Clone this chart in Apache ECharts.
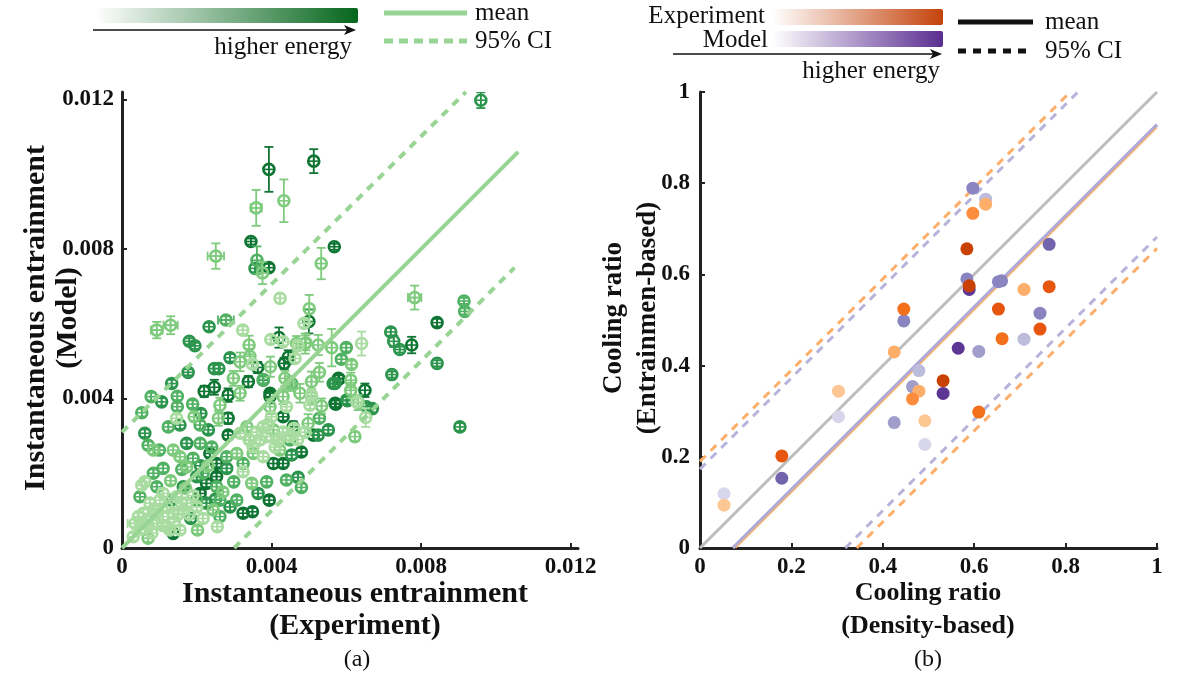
<!DOCTYPE html>
<html><head><meta charset="utf-8">
<script src="https://cdn.jsdelivr.net/npm/echarts@6/dist/echarts.min.js"></script>
<style>html,body{margin:0;padding:0;background:#fff}#c{width:1182px;height:676px}</style>
</head><body><div id="c"></div>
<script>
// ---------- Panel (a): [x, y, xErr, yErr] per energy level (light -> dark) ----------
const levelA0 = [
[0.00423,0.00668,0,0.00012],[0.00323,0.00583,0,0.0001],[0.00398,0.00558,0,0.0001],[0.00431,0.00552,0,0.0001],
[0.00471,0.00541,0,0.0001],[0.00641,0.00547,0,0.00032],[0.00349,0.00492,0,0.0001],[0.00463,0.00507,0,0.0001],
[0.00146,0.00347,0,0.0001],[0.0044,0.00378,0,0.0001],[0.004,0.00351,0,0.0001],[0.00652,0.00349,0,0.00025],
[0.00255,0.00057,0,0.0001],[0.00217,0.00079,0,0.0001],[0.00035,0.00066,0.0002,0.0001],[0.00053,0.00168,0,0.0001],
[0.00061,0.00177,0,0.0001],[0.0011,0.00146,0,0.0001],[0.00324,0.00204,0,0.0001],[0.00369,0.00289,0,0.0001],
[0.00351,0.00271,0,0.0001],[0.00387,0.00298,0,0.0001],[0.00414,0.00289,0,0.0001],[0.00316,0.00307,0,0.0001],
[0.00378,0.00324,0,0.0001],[0.00378,0.00244,0,0.0001],[0.00057,0.00093,0,0.0001],[0.00084,0.00102,0,0.0001],
[0.0011,0.00084,0,0.0001],[0.00137,0.00093,0,0.0001],[0.00164,0.00102,0,0.0001],[0.00093,0.00066,0,0.0001],
[0.0012,0.00057,0,0.0001],[0.00066,0.00075,0,0.0001],[0.00173,0.0012,0,0.0001],[0.00146,0.00137,0,0.0001],
[0.00102,0.00128,0,0.0001],[0.00075,0.0012,0,0.0001],[0.00044,0.00084,0,0.0001],[0.00128,0.00048,0,0.0001],
[0.00155,0.00048,0,0.0001],[0.00487,0.00601,0,0.0001],[0.00507,0.00409,0,0.0001],[0.00628,0.00391,0,0.0001],
[0.00503,0.00382,0,0.0001],[0.0045,0.003,0,0.0001],[0.0047,0.0029,0,0.0001],[0.0043,0.0031,0,0.0001],
[0.0049,0.0031,0,0.0001],[0.0036,0.0031,0,0.0001],[0.0041,0.0027,0,0.0001],[0.0005,0.0005,0,0.0001],
[0.0008,0.0004,0,0.0001],[0.0003,0.0003,0,0.0001],[0.0014,0.0007,0,0.0001],[0.0018,0.0009,0,0.0001],
[0.0009,0.0009,0,0.0001],[0.0012,0.0011,0,0.0001],[0.0016,0.0012,0,0.0001],[0.002,0.0011,0,0.0001],
[0.0007,0.0006,0,0.0001],[0.0011,0.0006,0,0.0001],[0.0015,0.0009,0,0.0001],[0.0019,0.0014,0,0.0001],
[0.0039,0.0033,0,0.0001],[0.0046,0.0032,0,0.0001],[0.0042,0.0029,0,0.0001],[0.0034,0.0029,0,0.0001]
];
const levelA1 = [
[0.00359,0.0091,0.00015,0.00048],[0.00433,0.00929,0,0.00057],[0.00251,0.00781,0.00022,0.00034],[0.00376,0.00736,0,0.0003],
[0.00533,0.00761,0,0.00042],[0.00501,0.0064,0,0.00037],[0.00783,0.0067,0.00018,0.00032],[0.00093,0.00583,0.00016,0.00022],
[0.0013,0.00596,0.00019,0.00024],[0.0049,0.00547,0,0.00027],[0.00525,0.00543,0,0.00027],[0.00561,0.00536,0,0.0005],
[0.00614,0.00491,0,0.0001],[0.00316,0.00498,0,0.00025],[0.0034,0.00543,0,0.00025],[0.00342,0.00513,0,0.0002],
[0.00397,0.00485,0,0.00027],[0.00528,0.0047,0,0.00025],[0.00084,0.00262,0,0.0001],[0.00193,0.00351,0,0.0001],
[0.00262,0.00382,0,0.0002],[0.00258,0.00347,0,0.0002],[0.00298,0.00454,0,0.0002],[0.00316,0.00414,0,0.0002],
[0.00431,0.00405,0,0.0002],[0.00396,0.00378,0,0.0002],[0.00449,0.0044,0,0.0002],[0.00476,0.00414,0,0.00025],
[0.00507,0.00405,0,0.0002],[0.00507,0.00445,0,0.00027],[0.00612,0.00449,0,0.0002],[0.00612,0.00422,0,0.0002],
[0.00632,0.00389,0,0.0002],[0.00623,0.00298,0,0.00012],[0.00498,0.00333,0,0.00025],[0.00347,0.00173,0,0.0001],
[0.00202,0.00048,0,0.0001],[0.0007,0.00026,0,0.0001],[0.00173,0.00217,0,0.0001],[0.00155,0.00244,0,0.0001],
[0.00137,0.00262,0,0.0001],[0.00307,0.00253,0,0.0001],[0.00342,0.00289,0,0.0001],[0.00422,0.00262,0,0.0001],
[0.00334,0.00324,0,0.0001],[0.00405,0.00316,0,0.0001],[0.00351,0.00253,0,0.0001],[0.00244,0.00102,0,0.0001],
[0.00436,0.00454,0,0.0002],[0.00492,0.00549,0,0.0002],[0.00467,0.00547,0,0.0002],[0.00534,0.0038,0,0.0002],
[0.0013,0.0018,0,0.0001],[0.0017,0.0016,0,0.0001],[0.0023,0.0022,0,0.0001],[0.0027,0.0015,0,0.0001]
];
const levelA2 = [
[0.00361,0.0077,0,0.00037],[0.00278,0.0061,0.00021,0.0001],[0.006,0.00536,0,0.0001],[0.00587,0.00505,0,0.0001],
[0.00915,0.00661,0,0.00008],[0.00917,0.00633,0,0.00008],[0.00053,0.00362,0,0.0001],[0.0007,0.00275,0,0.0001],
[0.001,0.00262,0,0.0001],[0.00078,0.00405,0,0.0001],[0.00148,0.00406,0,0.0001],[0.00148,0.00378,0,0.0001],
[0.00189,0.00385,0,0.0001],[0.00124,0.00324,0,0.0001],[0.00209,0.00329,0,0.0001],[0.00528,0.00347,0,0.0001],
[0.0044,0.00182,0,0.0001],[0.0048,0.00162,0,0.0001],[0.00387,0.00177,0,0.0001],[0.00299,0.00177,0,0.0001],
[0.00253,0.00164,0,0.0001],[0.00048,0.00137,0,0.0001],[0.0011,0.00213,0,0.0001],[0.00084,0.002,0,0.0001],
[0.00093,0.00164,0,0.0001],[0.00217,0.002,0,0.0001],[0.00209,0.0028,0,0.0001],[0.0028,0.00244,0,0.0001],
[0.00324,0.00226,0,0.0001],[0.00449,0.00289,0,0.0001],[0.002,0.00128,0,0.0001],[0.00262,0.00128,0,0.0001],
[0.00307,0.00128,0,0.0001],[0.00262,0.00084,0,0.0001],[0.00378,0.00451,0,0.0001],[0.00454,0.0044,0,0.0001],
[0.0019,0.0024,0,0.0001],[0.0024,0.0027,0,0.0001],[0.0016,0.0021,0,0.0001]
];
const levelA3 = [
[0.0096,0.01198,0,0.00021],[0.00356,0.00748,0,0.0001],[0.00233,0.00592,0,0.0001],[0.0018,0.00553,0,0.00008],
[0.00195,0.00541,0,0.00008],[0.00719,0.00578,0,0.0001],[0.00727,0.00553,0,0.00015],[0.00743,0.00531,0,0.00008],
[0.00843,0.00494,0,0.00008],[0.00722,0.00464,0,0.00008],[0.00289,0.00509,0,0.0001],[0.00177,0.0047,0,0.00008],
[0.00247,0.0048,0,0.0001],[0.00259,0.0048,0,0.0001],[0.00904,0.00324,0,0.0001],[0.00061,0.00307,0,0.0001],
[0.00106,0.00391,0,0.0001],[0.00133,0.0044,0,0.0001],[0.00211,0.0036,0,0.0001],[0.00155,0.00329,0,0.0001],
[0.00231,0.00316,0,0.0001],[0.00378,0.00449,0,0.0001],[0.00565,0.0044,0,0.0001],[0.00603,0.00394,0,0.0001],
[0.00654,0.00378,0,0.0001],[0.0067,0.00373,0,0.0001],[0.00552,0.00316,0,0.0001],[0.00525,0.00302,0,0.0001],
[0.00454,0.00249,0,0.0001],[0.00471,0.00189,0,0.0001],[0.00364,0.00146,0,0.0001],[0.00184,0.00079,0,0.0001],
[0.00133,0.00128,0,0.0001],[0.00164,0.00164,0,0.0001],[0.002,0.00191,0,0.0001],[0.00173,0.0028,0,0.0001],
[0.0028,0.00213,0,0.0001],[0.00226,0.0012,0,0.0001],[0.00289,0.0011,0,0.0001],[0.0057,0.0044,0,0.0001],
[0.00601,0.00396,0,0.0001],[0.0021,0.0022,0,0.0001],[0.0025,0.0013,0,0.0001]
];
const levelA4 = [
[0.00393,0.01013,0,0.0006],[0.00513,0.01035,0,0.00032],[0.00345,0.0082,0,0.00008],[0.00568,0.00806,0,0.00008],
[0.00393,0.0075,0,0.0001],[0.0042,0.00563,0,0.00027],[0.005,0.00606,0,0.00032],[0.00775,0.00543,0,0.00022],
[0.00843,0.00603,0,0.0001],[0.00363,0.00483,0,0.00015],[0.00445,0.00511,0,0.00018],[0.00434,0.00494,0,0.00015],
[0.0022,0.00419,0,0.00015],[0.00247,0.0043,0,0.0002],[0.00284,0.00409,0,0.00018],[0.00284,0.00347,0,0.00015],
[0.00284,0.00302,0,0.0001],[0.00338,0.00445,0,0.00015],[0.00396,0.00405,0,0.00018],[0.00431,0.00351,0,0.0001],
[0.00581,0.00452,0,0.0001],[0.0065,0.00422,0,0.00018],[0.00572,0.00385,0,0.0001],[0.00458,0.00324,0,0.00015],
[0.00512,0.00302,0,0.0001],[0.0048,0.00257,0,0.0001],[0.00431,0.00226,0,0.0001],[0.00405,0.00226,0,0.00012],
[0.00394,0.00128,0,0.0001],[0.00349,0.00097,0,0.0001],[0.00253,0.00191,0,0.0001],[0.00137,0.00039,0,0.0001],
[0.00226,0.00173,0,0.0001],[0.00235,0.00253,0,0.0001],[0.00253,0.00226,0,0.0001],[0.00209,0.00146,0,0.0001],
[0.00324,0.00093,0,0.0001],[0.00579,0.00454,0,0.0001],[0.0057,0.00387,0,0.0001],[0.00396,0.00414,0,0.00012]
];
const meanLineA = [[0, 0], [0.0106, 0.0106]];
const ciUpperA = [[0, 0.0031], [0.0092, 0.0122]];
const ciLowerA = [[0.003, 0], [0.0105, 0.0075]];
const ticksA = [0, 0.004, 0.008, 0.012];

// ---------- Panel (b): [x, y, energyLevel 0..5] ----------
const experimentB = [
[0.625,0.754,1],[0.597,0.734,2],[0.584,0.656,5],[0.589,0.575,5],[0.709,0.567,1],[0.764,0.573,4],
[0.446,0.524,3],[0.653,0.524,4],[0.744,0.480,4],[0.661,0.459,3],[0.425,0.430,1],[0.532,0.367,5],
[0.479,0.344,1],[0.303,0.344,0],[0.465,0.327,2],[0.492,0.279,0],[0.610,0.298,3],[0.179,0.202,4],
[0.0525,0.094,0]
];
const modelB = [
[0.597,0.789,3],[0.625,0.765,1],[0.764,0.666,4],[0.584,0.590,3],[0.589,0.567,5],[0.653,0.584,3],
[0.660,0.586,3],[0.446,0.498,3],[0.744,0.515,3],[0.709,0.458,1],[0.565,0.438,5],[0.610,0.431,2],
[0.479,0.389,1],[0.465,0.354,2],[0.532,0.339,5],[0.303,0.288,0],[0.425,0.275,2],[0.492,0.227,0],
[0.179,0.153,4],[0.0525,0.119,0]
];
const identityB = [[0, 0], [1, 1]];
const expMeanB = [[0.078, 0], [1, 0.922]];
const modMeanB = [[0.072, 0], [1, 0.928]];
const expUpperB = [[0, 0.19], [0.81, 1]];
const modUpperB = [[0, 0.173], [0.827, 1]];
const expLowerB = [[0.343, 0], [1, 0.657]];
const modLowerB = [[0.318, 0], [1, 0.682]];

const greens = ['#a9dca1', '#7ecb7d', '#52b264', '#2c954d', '#0f7533'];
const oranges = ['#fdc793', '#fdae6b', '#fd8d3c', '#f3701a', '#e6560e', '#c94203'];
const purples = ['#d7d6ea', '#bdbcdc', '#a29ecb', '#8a85c0', '#7263ad', '#5c3695'];
const lineGreen = '#98d594';

const SERIF = '"Liberation Serif","DejaVu Serif",serif';

function renderMarker(params, api) {
  const x = api.value(0), y = api.value(1), xe = api.value(2), ye = api.value(3);
  const c = api.coord([x, y]);
  const col = api.visual('color');
  const r = 5.5, cap = 4.5;
  const st = {stroke: col, lineWidth: 1.8, fill: null};
  const ch = [];
  if (ye > 0) {
    const t = api.coord([x, y + ye])[1], b = api.coord([x, y - ye])[1];
    ch.push({type: 'line', shape: {x1: c[0], y1: t, x2: c[0], y2: b}, style: st});
    ch.push({type: 'line', shape: {x1: c[0] - cap, y1: t, x2: c[0] + cap, y2: t}, style: st});
    ch.push({type: 'line', shape: {x1: c[0] - cap, y1: b, x2: c[0] + cap, y2: b}, style: st});
  }
  if (xe > 0) {
    const l = api.coord([x - xe, y])[0], rr = api.coord([x + xe, y])[0];
    ch.push({type: 'line', shape: {x1: l, y1: c[1], x2: rr, y2: c[1]}, style: st});
    ch.push({type: 'line', shape: {x1: l, y1: c[1] - cap, x2: l, y2: c[1] + cap}, style: st});
    ch.push({type: 'line', shape: {x1: rr, y1: c[1] - cap, x2: rr, y2: c[1] + cap}, style: st});
  }
  ch.push({type: 'circle', shape: {cx: c[0], cy: c[1], r: r}, style: {stroke: col, lineWidth: 2.6, fill: null}});
  ch.push({type: 'line', shape: {x1: c[0] - r, y1: c[1], x2: c[0] + r, y2: c[1]}, style: {stroke: col, lineWidth: 1.6}});
  ch.push({type: 'line', shape: {x1: c[0], y1: c[1] - r, x2: c[0], y2: c[1] + r}, style: {stroke: col, lineWidth: 1.6}});
  return {type: 'group', children: ch};
}

function greenSeries(data, lvl) {
  return {type: 'custom', xAxisIndex: 0, yAxisIndex: 0, renderItem: renderMarker,
    itemStyle: {color: greens[lvl]}, encode: {x: 0, y: 1}, data: data, z: 2, silent: true, clip: true};
}
function lineSeries(data, xi, color, width, dashed, z) {
  return {type: 'line', xAxisIndex: xi, yAxisIndex: xi, data: data, symbol: 'none', silent: true, z: z,
    lineStyle: {color: color, width: width, type: dashed ? [8, 7] : 'solid', cap: 'butt'}};
}

const axisLineStyle = {show: true, lineStyle: {color: '#222', width: 3}};
const tickStyle = {show: true, inside: true, length: 5, lineStyle: {color: '#222', width: 2}};
const labelFont = {fontFamily: SERIF, fontWeight: 'bold', fontSize: 23, color: '#111'};
const fmtA = v => v === 0 ? '0' : v.toFixed(3);
const fmtB = v => String(Math.round(v * 10) / 10);

const txt = (text, x, y, opt) => ({type: 'text', x: x, y: y, rotation: (opt && opt.rot) || 0,
  style: {text: text, fill: '#111', font: (opt && opt.font) || ('25px ' + SERIF),
    textAlign: (opt && opt.align) || 'left', textVerticalAlign: 'middle', lineHeight: (opt && opt.lh) || 30}});

const chart = echarts.init(document.getElementById('c'), null, {renderer: 'canvas'});
chart.setOption({
  backgroundColor: '#fff',
  animation: false,
  textStyle: {fontFamily: SERIF},
  grid: [
    {left: 122, top: 92, width: 456, height: 456, outerBoundsMode: 'none'},
    {left: 700, top: 92, width: 457, height: 456, outerBoundsMode: 'none'}
  ],
  xAxis: [
    {gridIndex: 0, type: 'value', min: 0, max: 0.0122, splitLine: {show: false}, axisLine: axisLineStyle,
     axisTick: Object.assign({customValues: ticksA}, tickStyle),
     axisLabel: Object.assign({customValues: ticksA, formatter: fmtA, margin: 8}, labelFont)},
    {gridIndex: 1, type: 'value', min: 0, max: 1, interval: 0.2, splitLine: {show: false}, axisLine: axisLineStyle,
     axisTick: tickStyle, axisLabel: Object.assign({formatter: fmtB, margin: 8}, labelFont)}
  ],
  yAxis: [
    {gridIndex: 0, type: 'value', min: 0, max: 0.0122, splitLine: {show: false}, axisLine: axisLineStyle,
     axisTick: Object.assign({customValues: ticksA}, tickStyle),
     axisLabel: Object.assign({customValues: ticksA, formatter: fmtA, margin: 8}, labelFont)},
    {gridIndex: 1, type: 'value', min: 0, max: 1, interval: 0.2, splitLine: {show: false}, axisLine: axisLineStyle,
     axisTick: tickStyle, axisLabel: Object.assign({formatter: fmtB, margin: 10}, labelFont)}
  ],
  series: [
    greenSeries(levelA4, 4), greenSeries(levelA3, 3), greenSeries(levelA2, 2), greenSeries(levelA1, 1), greenSeries(levelA0, 0),
    lineSeries(meanLineA, 0, lineGreen, 4, false, 5),
    lineSeries(ciUpperA, 0, lineGreen, 4, true, 5),
    lineSeries(ciLowerA, 0, lineGreen, 4, true, 5),
    lineSeries(identityB, 1, '#bdbdbd', 3, false, 1),
    lineSeries(modMeanB, 1, '#aeaad8', 3.5, false, 1),
    lineSeries(expMeanB, 1, '#fdae6b', 1.5, false, 1),
    lineSeries(expUpperB, 1, '#fdae6b', 3, true, 1),
    lineSeries(modUpperB, 1, '#b7b4dc', 3, true, 1),
    lineSeries(expLowerB, 1, '#fdae6b', 3, true, 1),
    lineSeries(modLowerB, 1, '#b7b4dc', 3, true, 1),
    {type: 'scatter', xAxisIndex: 1, yAxisIndex: 1, data: modelB, symbolSize: 13, z: 3, silent: true,
     itemStyle: {color: p => purples[p.value[2]], opacity: 1}},
    {type: 'scatter', xAxisIndex: 1, yAxisIndex: 1, data: experimentB, symbolSize: 13, z: 3, silent: true,
     itemStyle: {color: p => oranges[p.value[2]], opacity: 1}}
  ],
  graphic: [
    // axis titles
    txt('Instantaneous entrainment\n(Model)', 52, 318, {rot: Math.PI / 2, align: 'center', font: 'bold 30px ' + SERIF, lh: 32}),
    txt('Instantaneous entrainment\n(Experiment)', 355, 610, {align: 'center', font: 'bold 30px ' + SERIF, lh: 32}),
    txt('(a)', 357, 660, {align: 'center', font: '24px ' + SERIF}),
    txt('Cooling ratio\n(Entrainmen-based)', 631, 318, {rot: Math.PI / 2, align: 'center', font: 'bold 27px ' + SERIF, lh: 34}),
    txt('Cooling ratio\n(Density-based)', 928, 610, {align: 'center', font: 'bold 26px ' + SERIF, lh: 33}),
    txt('(b)', 928, 660, {align: 'center', font: '24px ' + SERIF}),
    // legend (a)
    {type: 'rect', shape: {x: 95, y: 8, width: 263, height: 15, r: [0, 2, 2, 0]},
     style: {fill: new echarts.graphic.LinearGradient(0, 0, 1, 0, [{offset: 0, color: '#ffffff'}, {offset: 1, color: '#05661c'}])}},
    {type: 'line', shape: {x1: 93, y1: 30, x2: 350, y2: 30}, style: {stroke: '#111', lineWidth: 1.5}},
    {type: 'polygon', shape: {points: [[356, 30], [344, 25], [347, 30], [344, 35]]}, style: {fill: '#111'}},
    txt('higher energy', 352, 47, {align: 'right'}),
    {type: 'line', shape: {x1: 384, y1: 13, x2: 467, y2: 13}, style: {stroke: lineGreen, lineWidth: 5}},
    {type: 'line', shape: {x1: 384, y1: 41, x2: 467, y2: 41}, style: {stroke: lineGreen, lineWidth: 5, lineDash: [9, 6]}},
    txt('mean', 475, 13),
    txt('95% CI', 475, 41),
    // legend (b)
    txt('Experiment', 765, 16, {align: 'right'}),
    {type: 'rect', shape: {x: 772, y: 9, width: 171, height: 16, r: [0, 2, 2, 0]},
     style: {fill: new echarts.graphic.LinearGradient(0, 0, 1, 0, [{offset: 0, color: '#ffffff'}, {offset: 1, color: '#c4430b'}])}},
    txt('Model', 768, 40, {align: 'right'}),
    {type: 'rect', shape: {x: 772, y: 31, width: 171, height: 16, r: [0, 2, 2, 0]},
     style: {fill: new echarts.graphic.LinearGradient(0, 0, 1, 0, [{offset: 0, color: '#ffffff'}, {offset: 1, color: '#5a2d91'}])}},
    {type: 'line', shape: {x1: 673, y1: 54, x2: 936, y2: 54}, style: {stroke: '#111', lineWidth: 1.5}},
    {type: 'polygon', shape: {points: [[942, 54], [930, 49], [933, 54], [930, 59]]}, style: {fill: '#111'}},
    txt('higher energy', 940, 71, {align: 'right'}),
    {type: 'line', shape: {x1: 958, y1: 22, x2: 1033, y2: 22}, style: {stroke: '#111', lineWidth: 5}},
    {type: 'line', shape: {x1: 958, y1: 51, x2: 1033, y2: 51}, style: {stroke: '#111', lineWidth: 5, lineDash: [8, 7]}},
    txt('mean', 1045, 22),
    txt('95% CI', 1045, 51)
  ]
});
</script></body></html>
